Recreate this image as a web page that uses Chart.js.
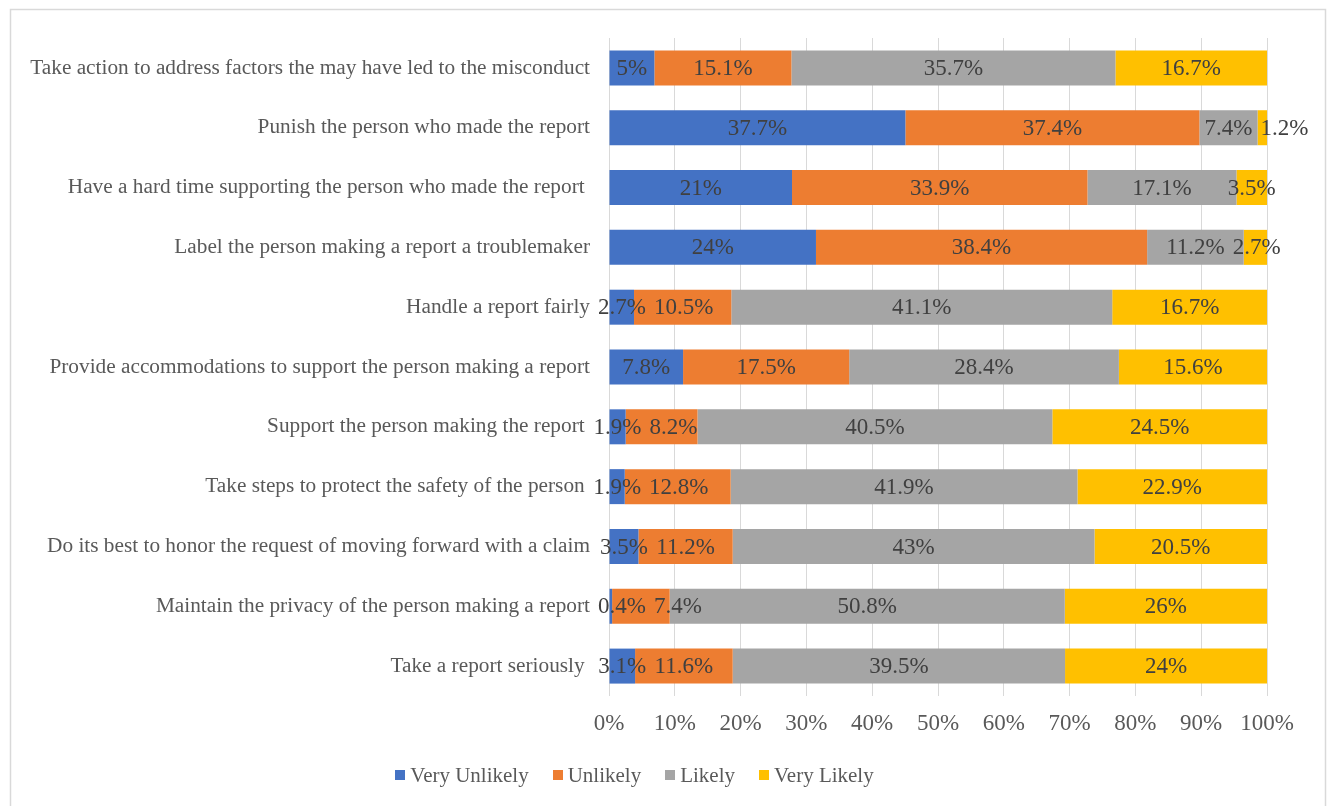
<!DOCTYPE html>
<html><head><meta charset="utf-8">
<script src="https://cdn.jsdelivr.net/npm/chart.js@4"></script>
<style>body{margin:0;background:#fff}#wrap{width:1329px;height:806px;position:relative}</style>
</head><body><div id="wrap"><canvas id="c" width="1329" height="806"></canvas></div>
<script>
const categories = [
  "Take action to address factors the may have led to the misconduct",
  "Punish the person who made the report",
  "Have a hard time supporting the person who made the report ",
  "Label the person making a report a troublemaker",
  "Handle a report fairly",
  "Provide accommodations to support the person making a report",
  "Support the person making the report ",
  "Take steps to protect the safety of the person ",
  "Do its best to honor the request of moving forward with a claim",
  "Maintain the privacy of the person making a report",
  "Take a report seriously "
];
const veryUnlikely = [5, 37.7, 21, 24, 2.7, 7.8, 1.9, 1.9, 3.5, 0.4, 3.1];
const unlikely     = [15.1, 37.4, 33.9, 38.4, 10.5, 17.5, 8.2, 12.8, 11.2, 7.4, 11.6];
const likely       = [35.7, 7.4, 17.1, 11.2, 41.1, 28.4, 40.5, 41.9, 43, 50.8, 39.5];
const veryLikely   = [16.7, 1.2, 3.5, 2.7, 16.7, 15.6, 24.5, 22.9, 20.5, 26, 24];
const seriesNames = ["Very Unlikely", "Unlikely", "Likely", "Very Likely"];
const colors = ["#4472C4", "#ED7D31", "#A5A5A5", "#FFC000"];
const xTicks = [0,10,20,30,40,50,60,70,80,90,100];

const raw = [veryUnlikely, unlikely, likely, veryLikely];
const sums = categories.map((_, i) => raw.reduce((s, arr) => s + arr[i], 0));

const SERIF = '"Liberation Serif","Times New Roman",serif';
const CAT_FONT = 21.3, CAT_PAD = 19;

const labelPlugin = {
  id: 'segLabels',
  afterDatasetsDraw(chart) {
    const ctx = chart.ctx;
    const yScale = chart.scales.y;
    ctx.save();
    ctx.textAlign = 'center';
    ctx.textBaseline = 'middle';
    ctx.fillStyle = '#404040';
    const metas = chart.data.datasets.map((ds, di) => chart.getDatasetMeta(di));
    chart.data.labels.forEach((cat, i) => {
      // right edge of category text (excluding trailing spaces)
      ctx.font = CAT_FONT + 'px ' + SERIF;
      const trail = cat.length - cat.replace(/\s+$/, '').length;
      const trailW = trail ? ctx.measureText(' '.repeat(trail)).width : 0;
      let minLeft = yScale.right - CAT_PAD - trailW + 8;
      ctx.font = '23px ' + SERIF;
      chart.data.datasets.forEach((ds, di) => {
        const el = metas[di].data[i];
        const txt = ds.rawValues[i] + '%';
        const w = ctx.measureText(txt).width;
        let cx = (el.x + el.base) / 2;
        if (cx - w / 2 < minLeft) cx = minLeft + w / 2;
        ctx.fillText(txt, cx, el.y + 1);
        minLeft = cx + w / 2 + 8;
      });
    });
    ctx.restore();
  }
};
const framePlugin = {
  id: 'frame',
  beforeDraw(chart) {
    const ctx = chart.ctx;
    ctx.save();
    ctx.fillStyle = '#fff';
    ctx.fillRect(0, 0, chart.width, chart.height);
    ctx.strokeStyle = '#d9d9d9';
    ctx.lineWidth = 1.5;
    ctx.strokeRect(10.5, 9.5, 1315, 810);
    ctx.restore();
  }
};
const legendPlugin = {
  id: 'customLegend',
  afterDraw(chart) {
    const ctx = chart.ctx;
    ctx.save();
    ctx.font = '21px ' + SERIF;
    ctx.textBaseline = 'middle';
    ctx.textAlign = 'left';
    const box = 10, gap = 5, spacing = 24, cy = 775, center = 634.5;
    const items = chart.data.datasets.map(ds => ({ label: ds.label, color: ds.backgroundColor, w: ctx.measureText(ds.label).width }));
    const total = items.reduce((s, it) => s + box + gap + it.w, 0) + spacing * (items.length - 1);
    let x = center - total / 2;
    items.forEach(it => {
      ctx.fillStyle = it.color;
      ctx.fillRect(Math.round(x), cy - box / 2, box, box);
      ctx.fillStyle = '#595959';
      ctx.fillText(it.label, x + box + gap, cy + 1);
      x += box + gap + it.w + spacing;
    });
    ctx.restore();
  }
};

new Chart(document.getElementById('c'), {
  type: 'bar',
  data: {
    labels: categories,
    datasets: raw.map((arr, k) => ({
      label: seriesNames[k],
      data: arr.map((v, i) => v / sums[i] * 100),
      rawValues: arr,
      backgroundColor: colors[k],
      borderWidth: 0,
      barPercentage: 0.585,
      categoryPercentage: 1
    }))
  },
  options: {
    indexAxis: 'y',
    responsive: false,
    animation: false,
    layout: { padding: { top: 38, right: 62, left: 0, bottom: 60 } },
    scales: {
      x: {
        stacked: true, min: 0, max: 100,
        afterBuildTicks(s) { s.ticks = xTicks.map(v => ({ value: v })); },
        afterFit(s) { s.height = 50; },
        ticks: { callback: v => v + '%', font: { family: SERIF, size: 23 }, color: '#595959', padding: 14, maxRotation: 0 },
        grid: { color: '#d9d9d9', drawTicks: false },
        border: { display: false }
      },
      y: {
        stacked: true,
        afterFit(s) { s.width = 609; },
        ticks: { font: { family: SERIF, size: CAT_FONT }, color: '#595959', padding: CAT_PAD, autoSkip: false },
        grid: { display: false, drawTicks: false },
        border: { display: false }
      }
    },
    plugins: {
      legend: { display: false },
      tooltip: { enabled: false }
    }
  },
  plugins: [framePlugin, labelPlugin, legendPlugin]
});
</script></body></html>
